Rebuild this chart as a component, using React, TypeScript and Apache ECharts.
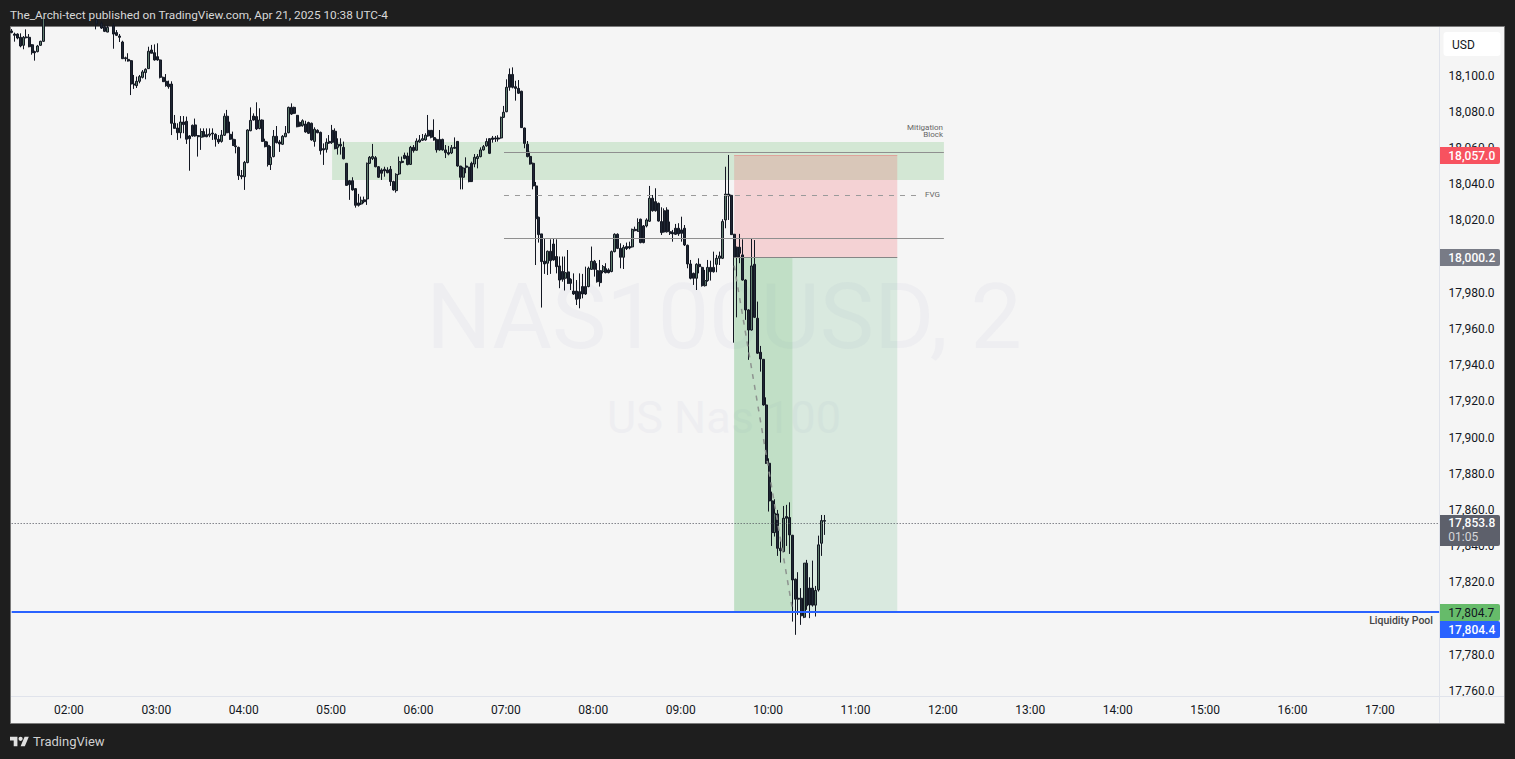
import React, { useEffect, useRef } from 'react';
import * as echarts from 'echarts';

// 2 minute bars, the first one opens at 01:20
const opens = [
  18124.6,18122.9,18122.9,18121.1,18116.7,18121.3,18121.1,18117.0,18113.2,18113.2,
  18116.7,18118.9,18133,18137,18141,18138,18143,18146,18142,18139,
  18144,18147,18143,18140,18145,18141,18137,18140,18135,18131,
  18128.5,18129,18127,18124.0,18128,18127.5,18123.7,18121.8,18118.5,18109.8,
  18108.9,18108.2,18095.3,18094.4,18096.8,18099.0,18101.6,18103.8,18114.1,18112.6,
  18110.4,18108.6,18099.0,18096.8,18095.3,18095.3,18073.6,18071.0,18068.4,18074.3,
  18074.7,18066.6,18072.5,18072.7,18066.8,18065.9,18069.0,18067.3,18067.0,18068.2,
  18067.5,18064.8,18063.6,18067.0,18077.5,18067.5,18064.8,18061.1,18060.3,18044.7,
  18044.1,18051.9,18069.5,18077.6,18077.3,18070.7,18075.4,18063.6,18061.4,18050.8,
  18055.2,18066.4,18063.3,18062.0,18066.2,18068.4,18082.4,18082.4,18078.0,18074.0,
  18072.5,18073.2,18074.0,18073.6,18063.6,18069.7,18068.6,18059.6,18059.2,18063.6,
  18069.7,18069.2,18060.3,18062.0,18060.3,18051.5,18041.9,18041.9,18037.5,18029.6,
  18029.0,18031.3,18031.8,18051.5,18054.2,18054.6,18049.6,18047.8,18048.2,18047.8,
  18048.2,18041.4,18036.4,18045.6,18052.6,18055.9,18055.5,18050.9,18060.3,18058.7,
  18063.3,18064.2,18064.4,18069.7,18069.7,18065.7,18064.7,18064.7,18064.7,18058.9,
  18057.4,18057.2,18060.3,18063.6,18050.0,18043.8,18050.0,18049.3,18051.5,18051.1,
  18054.1,18055.2,18058.9,18061.1,18065.1,18065.5,18065.5,18065.5,18065.5,18076.9,
  18080.0,18100.6,18100.6,18093.8,18092.9,18091.3,18071.0,18062.0,18055.3,18051.5,
  18039.0,18021.7,18012.5,17997.4,17996.3,18002.9,18006.9,18000.0,17994.8,17991.7,
  17988.0,17991.5,17987.4,17980.9,17980.9,17980.6,17983.4,17983.4,17983.4,17992.9,
  17997.4,17992.2,17992.2,17991.7,17993.3,17992.6,17991.7,18002.7,18012.3,18004.5,
  17999.6,18005.5,18005.5,18005.3,18015.0,18013.9,18020.6,18016.9,18016.9,18019.5,
  18032.2,18030.3,18029.4,18019.3,18025.3,18025.7,18013.7,18013.2,18015.6,18015.6,
  18014.7,18015.6,18006.2,17995.9,17990.7,17988.0,17995.7,17994.0,17983.9,17986.7,
  17994.0,17994.0,17995.7,17999.0,17999.0,18020.2,18034.5,18033.8,18012.3,18005.1,
  18005.1,18000.9,17987.0,17970.5,17959.4,17995.7,17965.9,17947.1,17943.2,17918.0,
  17885.8,17865.0,17847.5,17857.8,17838.8,17837.0,17856.3,17855.8,17846.0,17821.7,
  17811.2,17811.2,17800.7,17830.6,17816.8,17816.8,17807.4,17815.8,17841.6,17854.1,
];
const closes = [
  18123.8,18122.2,18120.7,18116.3,18121.1,18120.9,18115.9,18112.6,18112.6,18116.3,
  18118.9,18132.5,18137,18141,18138,18143,18146,18142,18139,18144,
  18147,18143,18140,18145,18141,18137,18140,18135,18131,18128.5,
  18128,18126.2,18124.4,18126.6,18127.5,18122.9,18122.2,18121.1,18109.3,18109.3,
  18108.0,18095.3,18094.8,18096.8,18099.4,18102.0,18103.4,18113.4,18112.3,18108.6,
  18108.6,18099.0,18096.6,18094.4,18093.8,18073.6,18070.8,18068.4,18074.3,18072.9,
  18064.8,18065.1,18066.6,18066.6,18066.2,18069.0,18066.2,18066.2,18067.7,18067.7,
  18064.8,18063.3,18067.1,18077.5,18068.4,18064.8,18061.3,18060.7,18044.7,18044.1,
  18052.0,18069.9,18075.2,18075.4,18070.5,18075.4,18063.6,18060.7,18050.8,18054.8,
  18066.4,18062.9,18062.2,18066.4,18068.1,18082.4,18078.7,18079.1,18071.7,18072.1,
  18075.0,18068.8,18068.1,18064.4,18070.3,18068.4,18058.5,18058.9,18063.1,18062.7,
  18063.1,18059.6,18062.0,18061.1,18054.0,18039.3,18039.7,18036.8,18028.3,18028.3,
  18031.1,18030.3,18051.5,18054.8,18055.2,18049.6,18043.8,18046.0,18047.3,18046.3,
  18041.4,18036.8,18045.4,18052.4,18052.0,18054.2,18050.8,18060.3,18058.5,18063.8,
  18064.4,18065.1,18067.0,18066.6,18065.9,18064.4,18058.9,18058.9,18058.9,18057.4,
  18056.6,18060.1,18059.8,18050.0,18043.8,18048.9,18049.3,18041.4,18041.4,18054.8,
  18055.2,18058.9,18060.7,18063.5,18057.0,18064.7,18064.9,18064.9,18076.9,18079.7,
  18093.5,18093.5,18093.5,18092.9,18090.2,18071.2,18062.5,18055.2,18051.1,18039.0,
  18020.9,18012.1,17997.2,17995.9,18002.9,17997.7,17998.1,17994.4,17987.0,17987.4,
  17991.1,17985.2,17985.2,17979.3,17976.4,17976.7,17979.3,17979.3,17993.5,17997.4,
  17992.9,17986.1,17985.6,17994.4,17991.1,17991.1,18002.7,18012.3,18004.5,17999.6,
  18005.1,18004.4,18004.7,18015.0,18014.3,18018.7,18007.7,18007.7,18020.2,18032.2,
  18025.3,18025.3,18019.6,18013.2,18013.6,18013.7,18012.8,18012.5,18012.3,18012.5,
  18012.8,18006.4,17995.9,17988.0,17988.0,17995.7,17994.4,17983.9,17986.7,17994.0,
  17991.6,17991.6,17999.0,18000.3,18019.3,18034.5,18033.4,18012.1,17999.6,17999.6,
  18001.8,17987.0,17970.5,17959.4,17994.8,17966.4,17946.6,17943.4,17918.0,17885.8,
  17865.0,17847.5,17858.2,17838.8,17837.5,17855.4,17855.4,17846.2,17821.3,17810.7,
  17810.7,17801.5,17830.6,17807.0,17807.5,17807.4,17815.5,17840.7,17854.1,17853.8,
];
const lows = [
  18123.3,18118.7,18120.0,18115.6,18114.5,18120.5,18115.6,18111.5,18108.2,18112.8,
  18116.3,18118.5,18131,18135,18136,18137,18141,18141,18137,18138,
  18143,18142,18138,18139,18140,18136,18136,18134,18129,18125.5,
  18127.5,18125.7,18124.0,18123.9,18127,18114.8,18121.8,18118.5,18109.1,18107.8,
  18107.7,18089.2,18092.6,18093.1,18095.7,18098.4,18097.9,18103.8,18112.3,18108.2,
  18108.2,18098.4,18096.4,18093.8,18092.7,18067.1,18070.8,18064.4,18065.3,18068.1,
  18062.2,18047.4,18066.2,18066.2,18055.2,18058.9,18065.9,18065.9,18065.9,18064.4,
  18060.7,18062.2,18062.9,18066.6,18068.1,18064.4,18061.1,18057.0,18042.3,18042.7,
  18036.8,18051.5,18069.2,18075.1,18069.9,18070.3,18063.5,18060.3,18049.7,18047.8,
  18054.8,18062.5,18057.8,18061.6,18065.9,18068.1,18078.2,18078.7,18071.4,18071.7,
  18071.7,18068.4,18067.7,18064.0,18060.7,18068.1,18056.3,18050.6,18057.4,18062.2,
  18062.2,18059.2,18056.3,18056.3,18053.7,18039.2,18031.3,18036.4,18027.0,18027.6,
  18028.5,18029.4,18028.5,18051.1,18053.3,18049.3,18043.4,18042.3,18044.1,18046.0,
  18039.0,18036.4,18035.3,18045.0,18051.5,18053.7,18050.4,18050.6,18057.4,18058.5,
  18062.9,18063.8,18064.0,18066.2,18065.3,18064.0,18057.4,18058.5,18058.5,18054.4,
  18055.9,18056.6,18059.6,18049.6,18037.1,18037.1,18046.0,18041.0,18041.2,18049.3,
  18048.7,18054.8,18058.5,18060.7,18056.6,18062.9,18063.3,18063.5,18065.1,18076.5,
  18079.7,18091.6,18092.9,18086.1,18089.8,18071.0,18059.8,18054.8,18050.8,18037.1,
  17995.3,18007.7,17971.8,17990.4,17989.8,17990.4,17997.7,17990.7,17982.5,17986.1,
  17981.2,17984.8,17981.5,17978.8,17973.2,17971.4,17976.9,17978.8,17983.0,17992.6,
  17988.9,17985.6,17983.4,17990.7,17990.7,17990.7,17991.3,18002.3,18004.1,17993.5,
  17993.1,18003.6,18004.0,18004.9,18013.9,18013.6,18007.3,18007.3,18016.1,18019.1,
  18024.8,18024.8,18019.3,18011.9,18013.2,18013.2,18011.9,18008.2,18011.9,18011.4,
  18008.2,18005.8,17993.5,17987.4,17984.3,17981.5,17990.7,17983.4,17983.4,17986.1,
  17986.7,17991.1,17991.3,17995.3,17998.6,18015.6,18020.2,18011.9,17952.4,17966.4,
  17996.3,17986.7,17965.0,17942.9,17959.1,17966.0,17946.2,17936.4,17917.6,17885.4,
  17859.1,17840.1,17845.3,17834.6,17830.9,17836.6,17840.1,17835.7,17798.3,17791.0,
  17802.0,17796.5,17800.2,17804.8,17800.2,17806.6,17801.1,17814.9,17834.6,17846.2,
];
const highs = [
  18125.7,18123.7,18123.3,18123.3,18121.8,18125.5,18122.9,18117.4,18113.7,18116.9,
  18119.2,18134,18139,18143,18144,18146,18148,18148,18144,18146,
  18149,18149,18145,18147,18147,18143,18142,18142,18137,18133,
  18130,18130,18128,18128,18129,18129,18125.1,18122.9,18119.2,18110.4,
  18112.3,18108.6,18100.3,18099.4,18100.3,18103.0,18104.0,18115.9,18116.9,18117.2,
  18117.8,18108.9,18099.4,18100.8,18097.2,18096.8,18078.2,18073.6,18077.6,18077.6,
  18077.3,18067.1,18072.9,18076.2,18067.1,18070.8,18070.8,18070.8,18070.8,18070.8,
  18068.1,18067.1,18069.9,18079.1,18081.0,18074.5,18069.0,18064.8,18060.7,18047.8,
  18052.8,18070.3,18082.4,18079.1,18085.2,18081.9,18075.8,18065.1,18063.5,18061.0,
  18069.9,18072.1,18064.4,18067.1,18072.1,18082.8,18084.6,18082.8,18078.2,18074.5,
  18075.8,18075.0,18074.5,18074.0,18071.4,18070.3,18069.0,18062.5,18065.3,18067.1,
  18072.7,18070.8,18065.3,18065.3,18063.5,18051.5,18042.3,18043.8,18037.7,18034.6,
  18033.1,18033.1,18051.9,18055.5,18062.2,18055.5,18050.0,18048.7,18049.6,18049.3,
  18050.0,18041.9,18046.0,18055.2,18055.2,18057.4,18057.4,18061.1,18061.6,18065.3,
  18067.1,18067.7,18068.1,18078.2,18069.9,18075.8,18065.1,18069.9,18065.1,18061.6,
  18061.1,18061.6,18065.8,18063.8,18050.0,18049.6,18054.8,18049.6,18052.4,18056.6,
  18056.6,18060.3,18061.6,18065.3,18065.3,18066.6,18066.6,18067.0,18077.3,18083.2,
  18097.9,18103.9,18104.5,18097.1,18097.5,18091.6,18071.2,18063.8,18057.9,18051.9,
  18041.2,18022.0,18012.5,18010.1,18003.3,18009.5,18010.1,18009.5,18000.0,18000.0,
  18000.0,18003.6,17988.0,17990.7,17987.0,17990.7,17990.4,17994.4,17994.4,18005.5,
  17998.1,17996.3,17998.1,17995.3,17996.3,17993.5,18003.3,18012.8,18012.8,18007.3,
  18006.4,18007.7,18008.2,18015.4,18016.5,18021.1,18020.9,18017.4,18021.1,18039.0,
  18034.0,18037.7,18029.8,18027.2,18026.6,18027.2,18019.3,18014.7,18018.0,18018.4,
  18022.0,18017.4,18006.6,17998.1,17991.1,17996.3,17999.0,17994.4,17992.6,17998.1,
  17997.7,18002.7,18000.9,18002.7,18020.6,18049.6,18056.1,18034.2,18012.5,18005.5,
  18012.5,18009.5,17987.4,17970.9,18010.1,18009.1,17975.1,17950.6,17943.4,17922.2,
  17888.5,17870.1,17865.9,17860.0,17843.8,17862.2,17862.8,17864.2,17846.2,17822.1,
  17825.6,17816.8,17830.6,17832.4,17822.8,17832.0,17818.0,17845.8,17857.2,17857.2,
];

const priceTicks = [
  17760, 17780, 17800, 17820, 17840, 17860, 17880, 17900, 17920, 17940, 17960, 17980,
  18000, 18020, 18040, 18060, 18080, 18100,
];

// slot index along the time axis, 01:20 + 2 min per slot
const slotCount = 491;
const slotLabels: string[] = [];
for (let i = 0; i < slotCount; i++) {
  const minutes = 80 + i * 2;
  const h = Math.floor(minutes / 60);
  const m = minutes % 60;
  slotLabels.push(String(h).padStart(2, '0') + ':' + String(m).padStart(2, '0'));
}

// drawings on the chart: [from slot, to slot, from price, to price]
const supplyZone = [110, 320, 18063.3, 18042.3];
const stopZone = [248, 304, 18056.1, 17999.6];
const targetZone = [248, 304, 17999.6, 17803.8];
const filledZone = [248, 268, 17999.6, 17803.8];
const blockTop = [169, 320, 18057.6];
const blockMid = [169, 311, 18033.8];
const blockBottom = [169, 320, 18010.1];
const tradeLine = [248, 268, 17995.0, 17805.0];
const lastPrice = 17852.9;
const liquidityLevel = 17803.8;

const FONT = 'Roboto';
const INK = '#131722';

const priceFmt = (v: number) =>
  v.toLocaleString('en-US', { minimumFractionDigits: 1, maximumFractionDigits: 1 });

const zone = (z: number[], color: string) => [
  { xAxis: z[0], yAxis: z[2], itemStyle: { color } },
  { xAxis: z[1], yAxis: z[3] },
];

const flatLine = (l: number[], lineStyle: any) => [
  { coord: [l[0], l[2]], lineStyle, symbol: 'none' },
  { coord: [l[1], l[2]], symbol: 'none' },
];

const tag = (y: number, h: number, fill: string, text: string, color = '#ffffff', bold = true) => ({
  type: 'group',
  z: 50,
  children: [
    { type: 'rect', z: 50, shape: { x: 1440, y, width: 60, height: h, r: [0, 2, 2, 0] }, style: { fill } },
    {
      type: 'text',
      z: 51,
      style: {
        x: 1448.3,
        y: y + 8.5,
        text,
        fill: color,
        font: (bold ? '500 ' : '') + '12px ' + FONT,
        verticalAlign: 'middle',
      },
    },
  ],
});

const label = (x: number, y: number, text: string, font: string, fill: string, align = 'right') => ({
  type: 'text',
  z: 20,
  style: { x, y, text, fill, font: font + ' ' + FONT, align, verticalAlign: 'middle' },
});

echarts.graphic.registerShape(
  'tvLogo',
  echarts.graphic.extendPath(
    'M14 22H7V11H0V4h14v18zM28 22h-8l7.5-18h8L28 22zM24 8a4 4 0 1 1-8 0 4 4 0 0 1 8 0z',
    {},
  ),
);

const App: React.FC = () => {
  const chartRef = useRef<HTMLDivElement>(null);

  useEffect(() => {
    if (!chartRef.current) return;

    const myChart = echarts.init(chartRef.current, undefined, { renderer: 'svg' });
    myChart.setOption({
      animation: false,
      backgroundColor: '#1e1e1e',
      grid: { left: 10.2, top: 27, width: 1430.4, height: 669 },
      xAxis: {
        type: 'category',
        data: slotLabels,
        axisLine: { show: false },
        axisTick: { show: false },
        splitLine: { show: false },
        axisLabel: {
          interval: (_: number, v: string) => v.endsWith(':00'),
          color: INK,
          fontFamily: FONT,
          fontSize: 12,
          margin: 8,
          padding: [0, 2, 0, 0],
        },
      },
      yAxis: {
        type: 'value',
        position: 'right',
        min: 17757.2,
        max: 18126.8,
        axisLine: { show: false },
        axisTick: { show: false },
        splitLine: { show: false },
        axisLabel: {
          customValues: priceTicks,
          formatter: (v: number) => priceFmt(v),
          color: INK,
          fontFamily: FONT,
          fontSize: 12,
          margin: 8,
          padding: [2, 0, 0, 0],
        },
      },
      series: [
        {
          type: 'candlestick',
          barWidth: 2.5,
          data: opens.map((o, i) => [o, closes[i], lows[i], highs[i]]),
          itemStyle: {
            color: '#5e7d6c',
            color0: '#1e2633',
            borderColor: INK,
            borderColor0: INK,
            borderWidth: 1,
          },
          markArea: {
            silent: true,
            data: [
              zone(supplyZone, 'rgba(76,175,80,0.2)'),
              zone(stopZone, 'rgba(242,54,69,0.18)'),
              zone(targetZone, 'rgba(60,170,100,0.15)'),
              zone(filledZone, 'rgba(76,175,80,0.17)'),
            ],
          },
          markLine: {
            silent: true,
            symbol: 'none',
            label: { show: false },
            data: [
              flatLine(blockTop, { color: '#8f8f8f', width: 1, type: 'solid' }),
              flatLine(blockMid, { color: '#9a9a9a', width: 1, type: [5, 6] }),
              flatLine(blockBottom, { color: '#8f8f8f', width: 1, type: 'solid' }),
              flatLine([248, 304, stopZone[3]], { color: '#868686', width: 1, type: 'solid' }),
              flatLine([248, 304, stopZone[2]], { color: 'rgba(242,54,69,0.25)', width: 1, type: 'solid' }),
              [
                { coord: [tradeLine[0], tradeLine[2]], lineStyle: { color: '#8e9490', width: 1.5, type: [5, 6] }, symbol: 'none' },
                { coord: [tradeLine[1], tradeLine[3]], symbol: 'none' },
              ],
              flatLine([0, 490, lastPrice], { color: '#4a4d57', width: 1, type: [1, 2] }),
              flatLine([0, 490, liquidityLevel], { color: '#2962ff', width: 2, type: 'solid' }),
            ],
          },
        },
      ],
      graphic: [
        // chart panel
        { type: 'rect', z: -5, shape: { x: 10.5, y: 26.5, width: 1494, height: 697 }, style: { fill: '#f5f5f5', stroke: '#7a7a7a', lineWidth: 1 } },
        // watermark
        { type: 'text', z: -4, style: { x: 724, y: 316, text: 'NAS100USD, 2', fill: '#eeeef1', font: '91.5px ' + FONT, align: 'center', verticalAlign: 'middle' } },
        { type: 'text', z: -4, style: { x: 724, y: 417, text: 'US Nas 100', fill: '#eeeef1', font: '45px ' + FONT, align: 'center', verticalAlign: 'middle' } },
        // axis dividers
        { type: 'line', z: 1, shape: { x1: 11, y1: 696.5, x2: 1504, y2: 696.5 }, style: { stroke: '#e0e3eb', lineWidth: 1 } },
        { type: 'line', z: 1, shape: { x1: 1439.5, y1: 27, x2: 1439.5, y2: 723 }, style: { stroke: '#e0e3eb', lineWidth: 1 } },
        // USD box
        { type: 'rect', z: 50, shape: { x: 1443.5, y: 32, width: 57, height: 24, r: 3 }, style: { fill: '#ffffff' } },
        { type: 'text', z: 51, style: { x: 1452, y: 44.5, text: 'USD', fill: INK, font: '12px ' + FONT, verticalAlign: 'middle' } },
        // price tags
        tag(147, 17, '#f7525f', '18,057.0'),
        tag(249, 17, '#787b86', '18,000.2'),
        {
          type: 'group',
          z: 50,
          children: [
            { type: 'rect', z: 50, shape: { x: 1440, y: 515, width: 60, height: 31, r: [0, 2, 2, 0] }, style: { fill: '#5d606b' } },
            { type: 'text', z: 51, style: { x: 1448.3, y: 523, text: '17,853.8', fill: '#ffffff', font: '500 12px ' + FONT, verticalAlign: 'middle' } },
            { type: 'text', z: 51, style: { x: 1448.3, y: 536.5, text: '01:05', fill: '#d6d6d9', font: '12px ' + FONT, verticalAlign: 'middle' } },
          ],
        },
        tag(604, 17, '#66bb6a', '17,804.7', INK, false),
        tag(621, 17, '#2962ff', '17,804.4'),
        // drawing labels
        label(943, 127, 'Mitigation', '8px', '#666666'),
        label(943, 134.5, 'Block', '8px', '#666666'),
        label(940, 194, 'FVG', '8px', '#666666'),
        label(1433, 620.5, 'Liquidity Pool', '500 10.5px', '#444444'),
        // frame texts
        { type: 'text', z: 20, style: { x: 10, y: 14.5, text: 'The_Archi-tect published on TradingView.com, Apr 21, 2025 10:38 UTC-4', fill: '#d8d8d8', font: '11.8px ' + FONT, verticalAlign: 'middle' } },
        { type: 'tvLogo', z: 20, x: 10, y: 734.6, scaleX: 0.53, scaleY: 0.53, style: { fill: '#e0e0e0' } },
        { type: 'text', z: 20, style: { x: 33, y: 741.5, text: 'TradingView', fill: '#d0d0d0', font: '13px ' + FONT, verticalAlign: 'middle' } },
      ],
    });

    return () => {
      myChart.dispose();
    };
  }, []);

  return <div ref={chartRef} style={{ position: 'fixed', left: 0, top: 0, width: 1515, height: 759 }} />;
};

export default App;
